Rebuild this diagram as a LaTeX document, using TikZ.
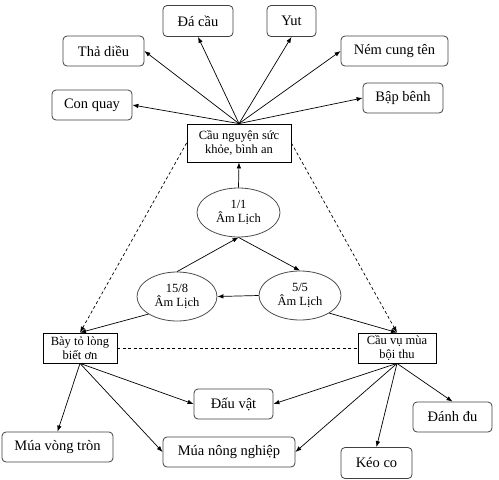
\documentclass[tikz,border=0pt]{standalone}
\usepackage{fontspec}
\setmainfont{Liberation Serif}
\usetikzlibrary{arrows.meta,shapes.geometric}
\tikzset{
  outer/.style={draw=black!75, rounded corners=4pt, line width=0.8pt, inner sep=0pt, font=\fontsize{14.5}{16}\selectfont},
  mid/.style={draw=black, line width=0.8pt, inner sep=0pt, align=center, font=\fontsize{12.5}{14.5}\selectfont},
  ell/.style={draw=black!70, ellipse, line width=0.8pt, inner sep=0pt, align=center, font=\fontsize{12.5}{14.5}\selectfont},
  arr/.style={-{Latex[length=6pt,width=4.5pt]}, line width=0.7pt},
  darr/.style={-{Latex[length=6pt,width=4.5pt]}, line width=0.7pt, dash pattern=on 3pt off 2.5pt},
  dline/.style={line width=0.7pt, dash pattern=on 3pt off 2.5pt}
}
\begin{document}
\begin{tikzpicture}[x=1pt,y=-1pt]
\useasboundingbox (0,0) rectangle (499,480);
% outer boxes (top)
\node[outer, minimum width=70pt, minimum height=31pt] (dacau) at (198,21) {Đá cầu};
\node[outer, minimum width=81pt, minimum height=30pt] (thadieu) at (103.5,51) {Thả diều};
\node[outer, minimum width=80pt, minimum height=30pt] (conquay) at (92,105) {Con quay};
\node[outer, minimum width=49pt, minimum height=31pt] (yut) at (291.5,21) {Yut};
\node[outer, minimum width=107pt, minimum height=30pt] (nem) at (394.5,51) {Ném cung tên};
\node[outer, minimum width=80pt, minimum height=30pt] (bap) at (403,98) {Bập bênh};
% central
\node[mid, minimum width=104pt, minimum height=38pt] (cn) at (239,143) {Cầu nguyện sức\\khỏe, bình an};
\node[ell, minimum width=83pt, minimum height=49pt] (e11) at (238.5,212.5) {1/1\\Âm Lịch};
\node[ell, minimum width=80pt, minimum height=49pt] (e158) at (177,296.5) {15/8\\Âm Lịch};
\node[ell, minimum width=82pt, minimum height=49pt] (e55) at (300,295.5) {5/5\\Âm Lịch};
\node[mid, minimum width=74pt, minimum height=30pt] (bay) at (80,348) {Bày tỏ lòng\\biết ơn};
\node[mid, minimum width=78pt, minimum height=30pt] (cvm) at (397,348) {Cầu vụ mùa\\bội thu};
% outer boxes (bottom)
\node[outer, minimum width=79pt, minimum height=30pt] (dauvat) at (233.5,404) {Đấu vật};
\node[outer, minimum width=111pt, minimum height=30pt] (muavong) at (57.5,447) {Múa vòng tròn};
\node[outer, minimum width=132pt, minimum height=30pt] (muanong) at (229,452) {Múa nông nghiệp};
\node[outer, minimum width=71pt, minimum height=31pt] (keoco) at (376.5,463) {Kéo co};
\node[outer, minimum width=79pt, minimum height=30pt] (danhdu) at (452.5,417) {Đánh đu};
% fan from top box
\draw[arr] (cn.north) -- (dacau.south);
\draw[arr] (cn.north) -- (thadieu.east);
\draw[arr] (cn.north) -- (conquay.east);
\draw[arr] (cn.north) -- (yut.south);
\draw[arr] (cn.north) -- (nem.west);
\draw[arr] (cn.north) -- (bap.west);
% cycle
\draw[arr] (e11.north) -- (cn.south);
\draw[arr] (e158.north) -- (e11.south);
\draw[arr] (e11.south) -- (e55.north);
\draw[arr] (e55.west) -- (e158.east);
\draw[arr] (e158.south west) -- (bay.north);
\draw[arr] (e55.south east) -- (cvm.north);
% dashed
\draw[darr] (cn.west) -- (bay.north);
\draw[darr] (cn.east) -- (cvm.north);
\draw[dline] (bay.east) -- (cvm.west);
% bottom fans
\draw[arr] (bay.south) -- (muavong.north);
\draw[arr] (bay.south) -- (dauvat.west);
\draw[arr] (bay.south) -- (muanong.west);
\draw[arr] (cvm.south) -- (dauvat.east);
\draw[arr] (cvm.south) -- (muanong.east);
\draw[arr] (cvm.south) -- (keoco.north);
\draw[arr] (cvm.south) -- (danhdu.north);
\end{tikzpicture}
\end{document}
